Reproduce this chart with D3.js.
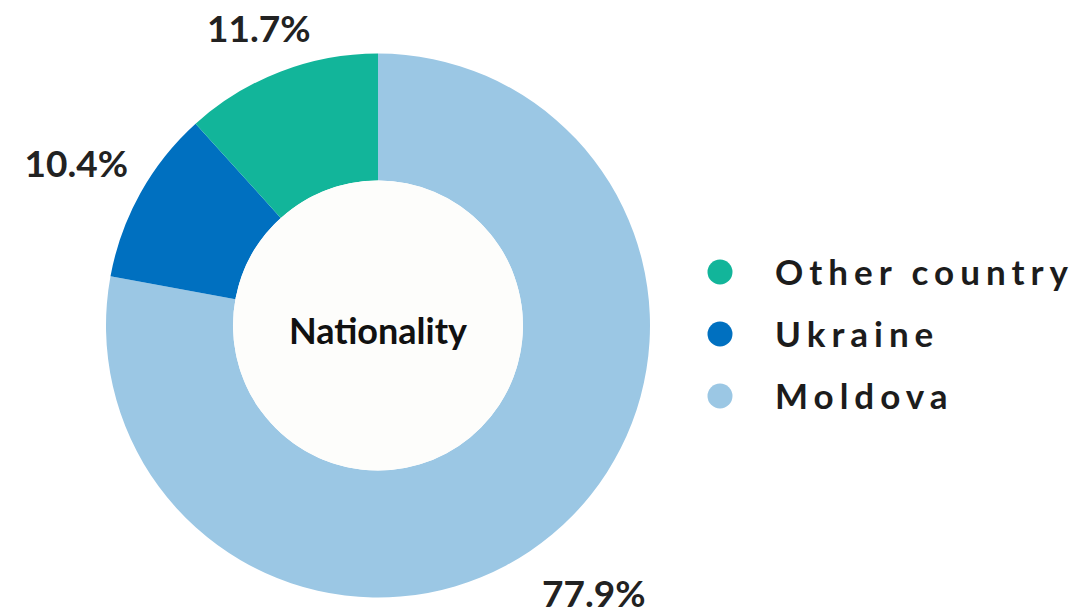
<!DOCTYPE html>
<html>
<head>
<meta charset="utf-8">
<script src="https://cdn.jsdelivr.net/npm/d3@7"></script>
<style>
  body { margin: 0; background: #fff; }
  svg { display: block; font-family: Lato, "Open Sans", sans-serif; }
</style>
</head>
<body>
<div id="chart"></div>
<script>
var categories = ["Moldova", "Ukraine", "Other country"];
var values = [77.9, 10.4, 11.7];
var colors = ["#9bc7e4", "#0070c0", "#12b59a"];
var legendOrder = ["Other country", "Ukraine", "Moldova"];
var centerTitle = "Nationality";

var width = 1073, height = 612;
var cx = 378, cy = 325.5;
var outerR = 272, innerR = 145, labelR = 342;

var data = categories.map(function(c, i) { return {name: c, value: values[i]}; });

var color = d3.scaleOrdinal().domain(categories).range(colors);

var svg = d3.select("#chart").append("svg")
    .attr("width", width)
    .attr("height", height);

var pie = d3.pie().sort(null).value(function(d) { return d.value; });
var arc = d3.arc().innerRadius(innerR).outerRadius(outerR);

var g = svg.append("g").attr("transform", "translate(" + cx + "," + cy + ")");

g.selectAll("path.slice")
  .data(pie(data))
  .enter().append("path")
    .attr("class", "slice")
    .attr("fill", function(d) { return color(d.data.name); })
    .attr("d", arc);

g.append("circle")
    .attr("r", innerR)
    .attr("fill", "#fdfdfb");

g.append("text")
    .attr("text-anchor", "middle")
    .attr("dy", "0.36em")
    .attr("y", 6)
    .attr("font-size", 36)
    .attr("font-weight", 700)
    .attr("fill", "#111")
    .text(centerTitle);

// percentage labels: placed on a ring, pulled in if they would leave the top
var minY = 28.5 - cy;
function labelPos(d) {
    var a = (d.startAngle + d.endAngle) / 2;
    var dx = Math.sin(a), dy = -Math.cos(a);
    var r = labelR;
    if (dy * r + 5 < minY) r = (minY - 5) / dy;
    return [dx * r - 3, dy * r + 5];
}

g.selectAll("text.pct")
  .data(pie(data))
  .enter().append("text")
    .attr("class", "pct")
    .attr("text-anchor", "middle")
    .attr("dy", "0.36em")
    .attr("font-size", 37)
    .attr("font-weight", 700)
    .attr("fill", "#222")
    .attr("transform", function(d) { return "translate(" + labelPos(d) + ")"; })
    .text(function(d) { return d.data.value.toFixed(1) + "%"; });

var legend = svg.append("g").attr("transform", "translate(720,272)");

var items = legend.selectAll("g")
  .data(legendOrder)
  .enter().append("g")
    .attr("transform", function(d, i) { return "translate(0," + (i * 62) + ")"; });

items.append("circle")
    .attr("r", 12.5)
    .attr("fill", function(d) { return color(d); });

items.append("text")
    .attr("x", 55)
    .attr("dy", "0.36em")
    .attr("font-size", 35)
    .attr("font-weight", 700)
    .attr("letter-spacing", "6px")
    .attr("fill", "#1c1c1c")
    .text(function(d) { return d; });
</script>
</body>
</html>
